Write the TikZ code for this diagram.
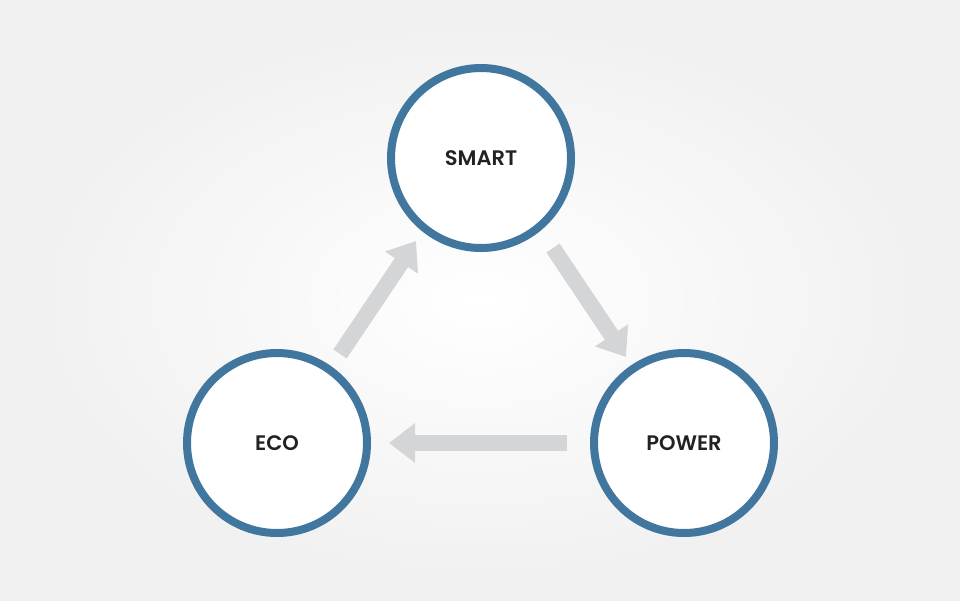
\documentclass[tikz,border=0pt]{standalone}
\usepackage{fontspec}
\setmainfont{Poppins}
\usetikzlibrary{arrows.meta}
\definecolor{ring}{HTML}{41769F}
\definecolor{arr}{HTML}{D4D5D7}
\definecolor{txt}{HTML}{222222}
\tikzset{
  hub/.style={circle,draw=ring,line width=8pt,fill=white,minimum size=180pt,inner sep=0pt,font=\fontsize{21}{25}\selectfont\fontspec{Poppins SemiBold},text=txt},
  flow/.style={draw=arr,line width=16pt,-{Triangle[width=38pt,length=26pt]}}
}
\begin{document}
\begin{tikzpicture}[x=1pt,y=-1pt]
\shade[inner color=white,outer color=black!6] (0,0) rectangle (960,600);
\useasboundingbox (0,0) rectangle (960,600);
\node[hub] (s) at (481,158) {SMART};
\node[hub] (e) at (277,443) {ECO};
\node[hub] (p) at (684,443) {POWER};
\coordinate (a1) at (553,248); \coordinate (b1) at (626,357);
\coordinate (a2) at (567,443); \coordinate (b2) at (389,443);
\coordinate (a3) at (340,354); \coordinate (b3) at (416,241);
\draw[flow] (a1) -- (b1);
\draw[flow] (a2) -- (b2);
\draw[flow] (a3) -- (b3);
\end{tikzpicture}
\end{document}
